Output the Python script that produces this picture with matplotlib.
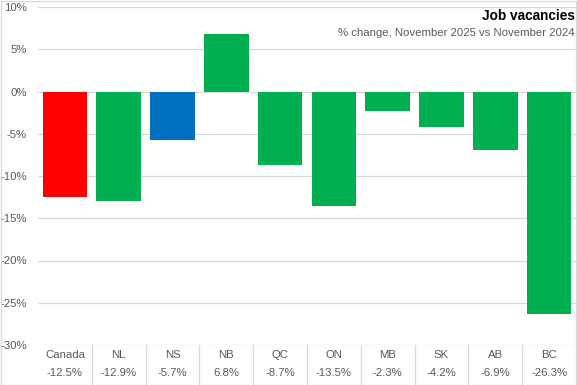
import matplotlib
matplotlib.use("Agg")
import matplotlib.pyplot as plt
from matplotlib.patches import Rectangle

# data
regions = ["Canada", "NL", "NS", "NB", "QC", "ON", "MB", "SK", "AB", "BC"]
pct_change = [-12.5, -12.9, -5.7, 6.8, -8.7, -13.5, -2.3, -4.2, -6.9, -26.3]
bar_colors = ["#FF0000", "#00B050", "#0070C0", "#00B050", "#00B050",
              "#00B050", "#00B050", "#00B050", "#00B050", "#00B050"]
y_ticks = [10, 5, 0, -5, -10, -15, -20, -25, -30]

plt.rcParams['font.family'] = ['Liberation Sans', 'DejaVu Sans']
grey_txt = "#595959"
grid_col = "#D9D9D9"
fs = 8.2

W, H = 577, 385
fig = plt.figure(figsize=(W / 100, H / 100), dpi=100)
ax = fig.add_axes([38 / W, 1 - 345 / H, (576 - 38) / W, (345 - 7) / H])

xs = list(range(len(regions)))
ax.bar(xs, pct_change, width=0.83, color=bar_colors, zorder=2)

ax.set_xlim(-0.5, len(regions) - 0.5)
ax.set_ylim(-30, 10)
ax.set_yticks(y_ticks)
ax.set_yticklabels([f"{t}%" for t in y_ticks], color=grey_txt, fontsize=fs)
ax.set_xticks([])
ax.tick_params(axis="y", length=0, pad=8)
for t in y_ticks:
    ax.axhline(t, color=grid_col, lw=0.9, zorder=1)
for s in ax.spines.values():
    s.set_visible(False)

# category table under the plot
trans = ax.get_xaxis_transform()
depth = (384 - 345) / (345 - 7)
for i, (name, v) in enumerate(zip(regions, pct_change)):
    ax.text(i, -(355 - 345) / (345 - 7), name, transform=trans, ha="center", va="center",
            fontsize=fs, color=grey_txt, clip_on=False)
    ax.text(i, -(373 - 345) / (345 - 7), f"{v:.1f}%", transform=trans, ha="center", va="center",
            fontsize=fs, color=grey_txt, clip_on=False)
for i in range(1, len(regions)):
    ax.plot([i - 0.5, i - 0.5], [0, -depth], transform=trans, color=grid_col, lw=0.9,
            clip_on=False)

# title
fig.text(575 / W, 1 - 16 / H, "Job vacancies", ha="right", va="center",
         fontsize=9.8, fontweight="bold", color="black")
fig.text(575 / W, 1 - 33 / H, "% change, November 2025 vs November 2024", ha="right",
         va="center", fontsize=fs, color=grey_txt)

# outer frame
fig.patches.append(Rectangle((0.5 / W, 0.5 / H), 1 - 1.5 / W, 1 - 1.5 / H,
                             transform=fig.transFigure, fill=False,
                             edgecolor=grid_col, lw=0.9))

fig.savefig("out.png", dpi=100)
